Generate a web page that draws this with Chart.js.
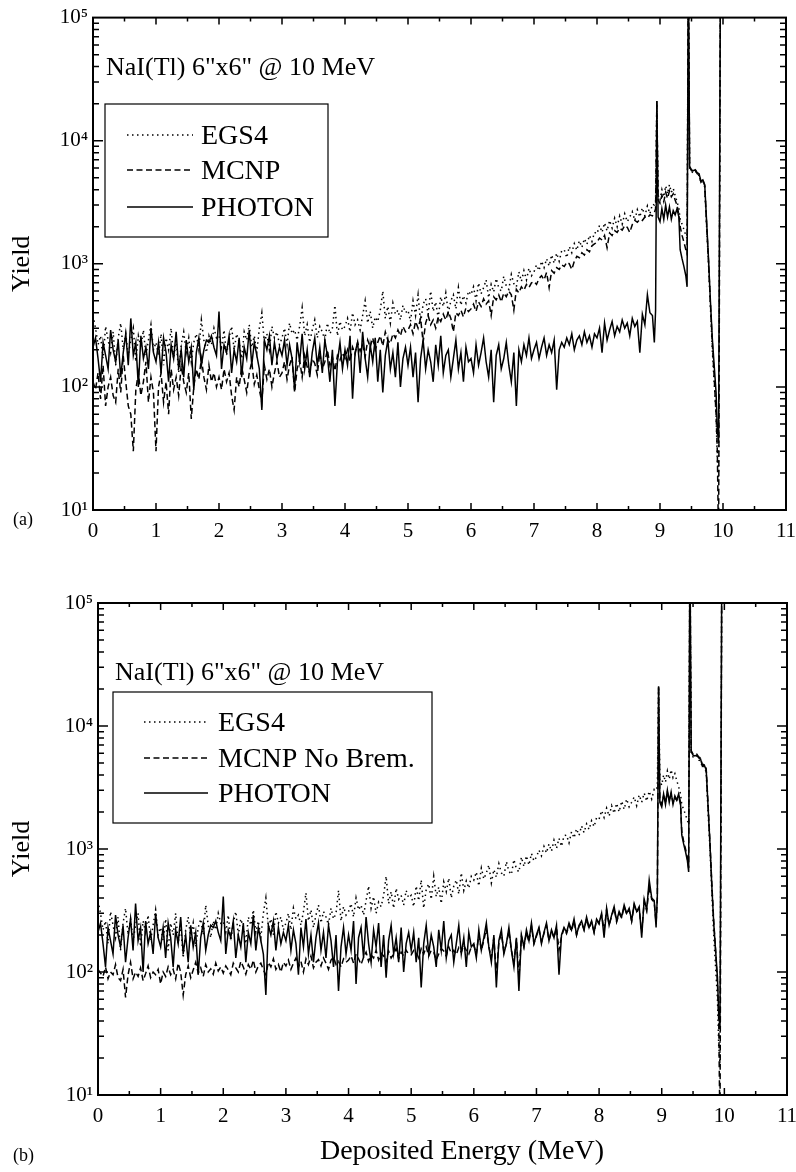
<!DOCTYPE html>
<html>
<head>
<meta charset="utf-8">
<script src="https://cdn.jsdelivr.net/npm/chart.js@4/dist/chart.umd.min.js"></script>
<style>
  body { margin: 0; background: #fff; width: 796px; height: 1172px; position: relative; overflow: hidden; }
  canvas { position: absolute; left: 0; }
  #chartA { top: 0; }
  #chartB { top: 560px; }
</style>
</head>
<body>
<canvas id="chartA" width="796" height="560"></canvas>
<canvas id="chartB" width="796" height="612"></canvas>
<script>
// channel width of the continuum arrays (first channel at 0 MeV)
const STEP = 0.04;

// channels around the escape / full energy peaks
const tailEnergy = [8.91, 8.93, 8.95, 8.97, 9.00, 9.03, 9.06, 9.09, 9.12, 9.15, 9.18, 9.21, 9.24,
  9.27, 9.30, 9.32, 9.35, 9.38, 9.41, 9.43, 9.45, 9.47, 9.50, 9.53, 9.56, 9.59, 9.62, 9.65,
  9.68, 9.71, 9.74, 9.77, 9.80, 9.83, 9.86, 9.89, 9.91, 9.93, 9.96];

// PHOTON (same in both panels)
const photon = [
  210, 250, 170, 110, 230, 180, 140, 290, 200, 160, 240, 120, 190, 270, 150, 360, 180, 230, 100, 260, 170, 210, 140, 300, 190,
  160, 230, 130, 250, 190, 110, 220, 170, 280, 140, 200, 120, 240, 160, 210, 95, 190, 250, 150, 200, 240, 230, 260, 210, 180,
  410, 140, 220, 190, 260, 130, 200, 160, 250, 120, 210, 170, 290, 150, 230, 180, 140, 65, 240, 200, 260, 150, 230, 170, 210,
  180, 240, 150, 220, 170, 95, 230, 160, 270, 140, 200, 120, 190, 250, 150, 210, 130, 240, 180, 110, 200, 70, 160, 230, 140,
  200, 150, 260, 80, 190, 230, 130, 280, 170, 120, 220, 160, 250, 110, 200, 90, 180, 240, 140, 190, 120, 230, 100, 170, 210,
  150, 210, 120, 190, 75, 170, 240, 140, 200, 160, 110, 220, 150, 260, 130, 180, 200, 120, 170, 240, 140, 190, 110, 210, 160,
  170, 130, 220, 150, 190, 250, 160, 120, 200, 75, 180, 220, 140, 170, 230, 150, 110, 190, 70, 200, 160, 220, 180, 250, 170,
  200, 230, 170, 210, 250, 180, 220, 190, 240, 95, 200, 230, 210, 250, 220, 270, 200, 240, 260, 220, 280, 230, 260, 210, 270,
  250, 300, 190, 330, 240, 290, 340, 260, 310, 280, 350, 300, 330, 260, 360, 310, 340, 190, 390, 320, 560, 400, 380
];
const photonTail = [230, 420, 21000, 2400, 2200, 2800, 2300, 3000, 2400, 2900, 2300, 2700, 2500,
  2800, 2400, 1300, 1100, 950, 800, 650, 300000, 6200, 5800, 5700, 5800, 5500, 5400, 4700,
  4800, 4400, 2200, 1100, 500, 250, 150, 90, 45, 35, 300000];

// EGS4 (same in both panels)
const egs4 = [
  380, 300, 220, 260, 170, 310, 240, 190, 280, 150, 250, 330, 200, 270, 180, 240, 300, 160, 260, 210, 290, 180, 240, 320, 200,
  230, 180, 270, 150, 250, 200, 300, 170, 240, 130, 220, 280, 190, 250, 160, 230, 270, 200, 350, 240, 190, 260, 220, 300, 250,
  260, 210, 290, 180, 250, 310, 200, 270, 230, 170, 280, 240, 320, 210, 260, 190, 300, 400, 230, 270, 200, 310, 250, 280, 220,
  250, 300, 220, 330, 270, 290, 240, 310, 440, 260, 320, 230, 290, 350, 250, 310, 280, 240, 330, 270, 300, 460, 260, 340, 290,
  310, 360, 280, 400, 320, 350, 290, 380, 500, 330, 410, 300, 370, 340, 420, 600, 360, 450, 330, 480, 390, 420, 350, 460, 400,
  420, 340, 500, 380, 560, 330, 470, 520, 390, 600, 410, 490, 360, 540, 450, 580, 400, 500, 560, 430, 640, 460, 550, 480, 600,
  560, 650, 500, 700, 570, 640, 740, 530, 680, 590, 760, 640, 600, 790, 660, 620, 820, 690, 650, 860, 720, 880, 740, 920, 800,
  860, 980, 880, 1050, 930, 1100, 960, 1180, 1010, 1220, 1050, 1280, 1300, 1120, 1380, 1230, 1460, 1290, 1540, 1360, 1600, 1440, 1700, 1520, 1800,
  1750, 2050, 1800, 2150, 1850, 2250, 1950, 2350, 2000, 2450, 2100, 2550, 2200, 2400, 2650, 2250, 2750, 2400, 2850, 2450, 2950, 2550, 3050
];
const egs4Tail = [3000, 3200, 21000, 3600, 3300, 4000, 3500, 4300, 3700, 4400, 3800, 4100, 3600,
  3200, 2800, 2300, 2100, 1900, 1700, 1600, 300000, 6000, 5600, 5500, 5700, 5300, 5200, 4600,
  4700, 4200, 2000, 1000, 450, 200, 110, 60, 25, 18, 300000];

// MCNP, panel (a)
const mcnp = [
  110, 95, 130, 80, 150, 70, 100, 120, 85, 75, 140, 90, 180, 110, 70, 60, 30, 95, 130, 85, 110, 160, 75, 120, 90,
  30, 100, 130, 75, 110, 60, 140, 95, 120, 85, 150, 110, 90, 130, 55, 100, 140, 115, 170, 120, 95, 150, 110, 130, 100,
  120, 95, 140, 110, 130, 85, 65, 120, 100, 145, 115, 90, 130, 160, 105, 125, 95, 75, 150, 115, 140, 100, 130, 160, 120,
  130, 160, 115, 150, 175, 90, 140, 165, 120, 180, 145, 130, 170, 155, 125, 190, 140, 160, 200, 150, 175, 135, 180, 165, 190,
  170, 200, 160, 210, 185, 230, 195, 220, 175, 240, 210, 250, 200, 230, 260, 215, 280, 240, 225, 270, 250, 290, 260, 310, 280,
  290, 320, 270, 340, 300, 360, 230, 330, 380, 320, 350, 300, 370, 340, 390, 350, 410, 360, 280, 400, 380, 420, 370, 440, 410,
  430, 470, 410, 490, 450, 520, 470, 500, 380, 540, 510, 560, 490, 580, 540, 600, 560, 420, 620, 580, 650, 610, 680, 640, 700,
  720, 680, 760, 800, 740, 850, 640, 880, 840, 930, 900, 980, 950, 1030, 1000, 900, 1050, 1150, 1120, 1230, 1180, 1300, 1250, 1400, 1450,
  1500, 1620, 1560, 1700, 1350, 1780, 1700, 1860, 1800, 1950, 1880, 2050, 1980, 1800, 2080, 2250, 2180, 2300, 2250, 2400, 2350, 2500, 2450
];
const mcnpTail = [2600, 2800, 21000, 3300, 3100, 3600, 3200, 3800, 3400, 3900, 3500, 3700, 3300,
  3000, 2500, 2000, 1700, 1500, 1300, 1200, 300000, 6100, 5700, 5600, 5800, 5400, 5300, 4600,
  4800, 4300, 2100, 1050, 480, 230, 120, 60, 30, 5, 300000];

// MCNP without bremsstrahlung, panel (b)
const mcnpNoBrem = [
  105, 98, 92, 110, 88, 100, 95, 115, 90, 85, 105, 62, 95, 120, 88, 100, 92, 108, 85, 97, 112, 90, 100, 95, 105,
  80, 100, 92, 110, 95, 105, 88, 118, 100, 65, 95, 112, 90, 104, 120, 98, 108, 92, 115, 100, 106, 96, 118, 102, 110,
  98, 112, 104, 95, 118, 108, 100, 122, 110, 96, 115, 105, 125, 100, 112, 118, 104, 95, 120, 110, 128, 105, 115, 100, 120,
  112, 125, 105, 118, 130, 110, 122, 100, 128, 115, 135, 108, 120, 126, 112, 130, 118, 105, 125, 132, 115, 122, 110, 128, 120,
  125, 135, 118, 140, 128, 115, 132, 145, 122, 138, 130, 150, 125, 142, 135, 120, 148, 130, 140, 155, 128, 145, 135, 150, 140,
  138, 150, 145, 130, 155, 140, 160, 135, 150, 145, 125, 140, 155, 148, 135, 160, 142, 150, 138, 158, 145, 165, 150, 140, 160,
  165, 140, 200, 150, 180, 225, 160, 130, 190, 95, 175, 205, 145, 170, 215, 150, 120, 185, 90, 195, 160, 210, 175, 235, 170,
  195, 225, 175, 205, 240, 180, 215, 190, 230, 150, 195, 225, 205, 240, 215, 260, 200, 235, 250, 220, 270, 225, 255, 210, 265,
  245, 290, 220, 320, 240, 285, 330, 255, 300, 275, 340, 295, 320, 260, 350, 305, 330, 210, 375, 315, 500, 390, 370
];
const mcnpNoBremTail = [250, 400, 21000, 2500, 2300, 2700, 2400, 2900, 2500, 2800, 2400, 2600, 2500,
  2700, 2300, 1400, 1150, 1000, 850, 700, 300000, 6300, 5900, 5800, 5900, 5600, 5500, 4800,
  4900, 4500, 2300, 1150, 520, 260, 150, 80, 40, 5, 300000];

const SERIF = '"Liberation Serif", "Times New Roman", "DejaVu Serif", serif';
const SUP = ['\u2070', '\u00b9', '\u00b2', '\u00b3', '\u2074', '\u2075'];
const DOTTED = [1.5, 3.5];
const DASHED = [6, 3.5];

function toPoints(values, tail) {
  const pts = values.map((v, i) => ({ x: +(i * STEP).toFixed(2), y: v }));
  return pts.concat(tail.map((v, i) => ({ x: tailEnergy[i], y: v })));
}

function series(label, values, tail, dash) {
  return {
    label: label,
    data: toPoints(values, tail),
    borderColor: '#000',
    borderWidth: 1.5,
    borderDash: dash,
    pointRadius: 0,
    fill: false,
    tension: 0
  };
}

function decadeLabel(v) {
  const e = Math.round(Math.log10(v));
  return Math.abs(v - Math.pow(10, e)) < 1e-6 * v ? '10' + SUP[e] : '';
}

// frame plus inward tick marks on all four sides
const axisFrame = {
  id: 'axisFrame',
  afterDatasetsDraw(chart) {
    const { ctx, chartArea: a } = chart;
    const x = chart.scales.x, y = chart.scales.y;
    ctx.save();
    ctx.strokeStyle = '#000';
    ctx.lineWidth = 1.5;
    ctx.beginPath();
    for (let k = 1; k < 22; k++) {
      const px = x.getPixelForValue(k / 2);
      const len = k % 2 === 0 ? 7 : 4;
      ctx.moveTo(px, a.bottom); ctx.lineTo(px, a.bottom - len);
      ctx.moveTo(px, a.top); ctx.lineTo(px, a.top + len);
    }
    for (let d = 1; d <= 4; d++) {
      for (let m = 1; m <= 9; m++) {
        const py = y.getPixelForValue(m * Math.pow(10, d));
        const len = m === 1 ? 10 : 6;
        ctx.moveTo(a.left, py); ctx.lineTo(a.left + len, py);
        ctx.moveTo(a.right, py); ctx.lineTo(a.right - len, py);
      }
    }
    ctx.stroke();
    ctx.lineWidth = 2;
    ctx.strokeRect(a.left, a.top, a.right - a.left, a.bottom - a.top);
    ctx.restore();
  }
};

// note, legend box, panel tag and x title
const panelText = {
  id: 'panelText',
  afterDraw(chart, args, o) {
    const ctx = chart.ctx;
    ctx.save();
    ctx.fillStyle = '#000';
    ctx.strokeStyle = '#000';
    ctx.textAlign = 'left';
    ctx.textBaseline = 'alphabetic';

    ctx.font = '26px ' + SERIF;
    ctx.fillText(o.note.text, o.note.x, o.note.y);

    ctx.lineWidth = 1.2;
    ctx.strokeRect(o.box.x, o.box.y, o.box.w, o.box.h);

    ctx.font = '28px ' + SERIF;
    chart.data.datasets.forEach((ds, i) => {
      const ry = o.rows[i];
      ctx.setLineDash(ds.borderDash);
      ctx.lineWidth = ds.borderWidth;
      ctx.beginPath();
      ctx.moveTo(o.sampleX[0], ry);
      ctx.lineTo(o.sampleX[1], ry);
      ctx.stroke();
      ctx.setLineDash([]);
      ctx.fillText(ds.label, o.labelX, ry + 9);
    });

    ctx.font = '18px ' + SERIF;
    ctx.fillText(o.tag.text, o.tag.x, o.tag.y);

    if (o.xTitle) {
      ctx.font = '28px ' + SERIF;
      ctx.textAlign = 'center';
      ctx.fillText(o.xTitle.text, o.xTitle.x, o.xTitle.y);
    }
    ctx.restore();
  }
};

function makePanel(id, datasets, p) {
  const tickFont = { family: SERIF, size: 21 };
  return new Chart(document.getElementById(id), {
    type: 'line',
    data: { datasets: datasets },
    options: {
      responsive: false,
      animation: false,
      layout: { padding: p.padding },
      plugins: {
        legend: { display: false },
        tooltip: { enabled: false },
        panelText: p.text
      },
      scales: {
        x: {
          type: 'linear',
          min: 0,
          max: 11,
          grid: { display: false, drawTicks: false },
          border: { display: false },
          ticks: { stepSize: 1, color: '#000', font: tickFont, padding: 9, maxRotation: 0 },
          afterFit: s => { s.height = p.xHeight; s.paddingRight = p.padRight; }
        },
        y: {
          type: 'logarithmic',
          min: 10,
          max: 100000,
          grid: { display: false, drawTicks: false },
          border: { display: false },
          ticks: { autoSkip: false, color: '#000', font: tickFont, padding: 5, callback: v => decadeLabel(v) },
          title: { display: true, text: 'Yield', color: '#000', font: { family: SERIF, size: 26 }, padding: { top: 7 } },
          afterFit: s => { s.width = p.yWidth; }
        }
      }
    },
    plugins: [axisFrame, panelText]
  });
}

makePanel('chartA', [
  series('EGS4', egs4, egs4Tail, DOTTED),
  series('MCNP', mcnp, mcnpTail, DASHED),
  series('PHOTON', photon, photonTail, [])
], {
  padding: { top: 17, right: 0, left: 0, bottom: 0 },
  padRight: 10,
  yWidth: 93,
  xHeight: 50,
  text: {
    note: { text: 'NaI(Tl) 6"x6" @ 10 MeV', x: 106, y: 75 },
    box: { x: 105, y: 104, w: 223, h: 133 },
    rows: [135, 170, 207],
    sampleX: [127, 193],
    labelX: 201,
    tag: { text: '(a)', x: 13, y: 525 }
  }
});

makePanel('chartB', [
  series('EGS4', egs4, egs4Tail, DOTTED),
  series('MCNP No Brem.', mcnpNoBrem, mcnpNoBremTail, DASHED),
  series('PHOTON', photon, photonTail, [])
], {
  padding: { top: 43, right: 0, left: 0, bottom: 0 },
  padRight: 9,
  yWidth: 98,
  xHeight: 77,
  text: {
    note: { text: 'NaI(Tl) 6"x6" @ 10 MeV', x: 115, y: 120 },
    box: { x: 113, y: 132, w: 319, h: 131 },
    rows: [162, 198, 233],
    sampleX: [144, 208],
    labelX: 218,
    tag: { text: '(b)', x: 13, y: 601 },
    xTitle: { text: 'Deposited Energy (MeV)', x: 462, y: 599 }
  }
});
</script>
</body>
</html>
